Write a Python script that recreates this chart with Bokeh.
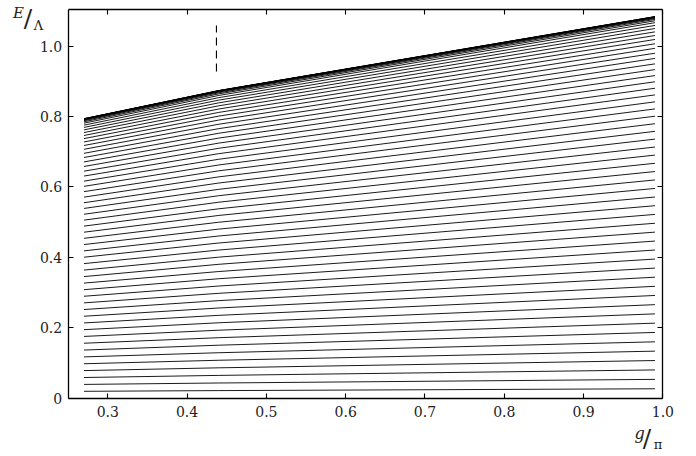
from bokeh.plotting import figure
from bokeh.models import Range1d, FixedTicker, LinearAxis, ColumnDataSource, CustomJSTickFormatter
from bokeh.core.properties import value
from bokeh.embed import file_html
from bokeh.resources import INLINE

g_read = [0.27, 0.44, 0.99]

# E/Lambda of each level (bottom to top) at g/pi = 0.27, 0.44, 0.99
E_at_027 = [0.0196, 0.0392, 0.0588, 0.0784, 0.0979, 0.1174, 0.1368, 0.1562, 0.1755, 0.1947,
            0.2138, 0.2329, 0.2519, 0.2708, 0.2896, 0.3083, 0.3270, 0.3455, 0.3640, 0.3824,
            0.4006, 0.4186, 0.4365, 0.4542, 0.4716, 0.4889, 0.5059, 0.5226, 0.5391, 0.5553,
            0.5712, 0.5868, 0.6019, 0.6167, 0.6311, 0.6450, 0.6584, 0.6713, 0.6838, 0.6957,
            0.7071, 0.7179, 0.7280, 0.7375, 0.7464, 0.7547, 0.7623, 0.7693, 0.7757, 0.7814,
            0.7853, 0.7882, 0.7902, 0.7915, 0.7924, 0.7930, 0.7934, 0.7937, 0.7938, 0.7940]
E_at_044 = [0.0216, 0.0432, 0.0648, 0.0863, 0.1078, 0.1292, 0.1506, 0.1719, 0.1932, 0.2143,
            0.2354, 0.2563, 0.2772, 0.2980, 0.3187, 0.3394, 0.3599, 0.3804, 0.4007, 0.4209,
            0.4409, 0.4608, 0.4804, 0.4999, 0.5192, 0.5381, 0.5568, 0.5753, 0.5934, 0.6113,
            0.6288, 0.6459, 0.6626, 0.6788, 0.6947, 0.7100, 0.7247, 0.7390, 0.7527, 0.7658,
            0.7783, 0.7902, 0.8014, 0.8119, 0.8216, 0.8307, 0.8391, 0.8468, 0.8538, 0.8601,
            0.8645, 0.8676, 0.8698, 0.8713, 0.8723, 0.8729, 0.8733, 0.8736, 0.8738, 0.8740]
E_at_099 = [0.0268, 0.0535, 0.0803, 0.1070, 0.1337, 0.1602, 0.1868, 0.2132, 0.2396, 0.2658,
            0.2919, 0.3179, 0.3438, 0.3696, 0.3953, 0.4209, 0.4464, 0.4718, 0.4970, 0.5221,
            0.5469, 0.5715, 0.5959, 0.6200, 0.6439, 0.6674, 0.6906, 0.7135, 0.7360, 0.7581,
            0.7798, 0.8011, 0.8218, 0.8419, 0.8616, 0.8805, 0.8989, 0.9165, 0.9335, 0.9498,
            0.9653, 0.9800, 0.9939, 1.0069, 1.0191, 1.0303, 1.0407, 1.0503, 1.0590, 1.0668,
            1.0722, 1.0761, 1.0788, 1.0806, 1.0818, 1.0826, 1.0831, 1.0836, 1.0838, 1.0840]

# dashed marker
marker_g = [0.437, 0.437]
marker_E = [0.928, 1.059]

x_ticks = [0.3, 0.4, 0.5, 0.6, 0.7, 0.8, 0.9, 1.0]
x_tick_labels = ["0.3", "0.4", "0.5", "0.6", "0.7", "0.8", "0.9", "1.0"]
y_ticks = [0, 0.2, 0.4, 0.6, 0.8, 1.0]
y_tick_labels = ["0", "0.2", "0.4", "0.6", "0.8", "1.0"]

X_LO, X_HI = 0.25, 1.0
Y_LO, Y_HI = 0.0, 1.104

FONT = "DejaVu Serif"
INK = "#222222"

# the frame covers the whole canvas; the visible box is made of axes fixed at the data limits
p = figure(width=680, height=456, output_backend="svg", toolbar_location=None,
           x_range=Range1d(0.16469, 1.0222), y_range=Range1d(-0.1656, 1.1298),
           min_border=0, min_border_left=0, min_border_right=0, min_border_top=0,
           min_border_bottom=0, x_axis_location=None, y_axis_location=None)
p.grid.visible = False
p.outline_line_color = None
p.background_fill_color = "white"
p.border_fill_color = "white"

def style_axis(ax, ticks, labels, show_labels, standoff, loc, bounds):
    ax.fixed_location = loc
    ax.bounds = bounds
    ax.ticker = FixedTicker(ticks=ticks)
    ax.minor_tick_line_color = None
    ax.major_tick_in = 5
    ax.major_tick_out = 0
    ax.major_tick_line_color = "black"
    ax.major_tick_line_width = 1.1
    ax.axis_line_color = "black"
    ax.axis_line_width = 1.3
    if show_labels:
        ax.major_label_overrides = {t: l for t, l in zip(ticks, labels)}
        ax.major_label_text_font = FONT
        ax.major_label_text_font_size = "14px"
        ax.major_label_text_color = INK
        ax.major_label_standoff = standoff
    else:
        ax.formatter = CustomJSTickFormatter(code="return ''")
        ax.major_label_text_color = None
        ax.major_label_text_font_size = "1px"
        ax.major_label_standoff = 0

bottom = LinearAxis(); style_axis(bottom, x_ticks, x_tick_labels, True, 8, Y_LO, (X_LO, X_HI))
left = LinearAxis(); style_axis(left, y_ticks, y_tick_labels, True, 6, X_LO, (Y_LO, Y_HI))
top = LinearAxis(); style_axis(top, x_ticks, x_tick_labels, False, 0, Y_HI, (X_LO, X_HI))
right = LinearAxis(); style_axis(right, y_ticks, y_tick_labels, False, 0, X_HI, (Y_LO, Y_HI))
p.add_layout(bottom, "below")
p.add_layout(left, "left")
p.add_layout(top, "above")
p.add_layout(right, "right")

xs = [list(g_read) for _ in E_at_027]
ys = [[a, b, c] for a, b, c in zip(E_at_027, E_at_044, E_at_099)]
src = ColumnDataSource(dict(xs=xs, ys=ys))
p.multi_line(xs="xs", ys="ys", source=src, line_color="black", line_width=0.9)

p.line(marker_g, marker_E, line_color="black", line_width=1.1, line_dash="8 5")

def lab(x, y, t, size, style="normal"):
    p.text(x=[x], y=[y], text=[t], text_font=value(FONT), text_font_size=value(size),
           text_font_style=style, text_align="center", text_baseline="middle",
           text_color=INK)

lab(0.1874, 1.0957, "E", "15px", "italic")
lab(0.1994, 1.0784, "/", "25px")
lab(0.2126, 1.0588, "Λ", "13px")
lab(0.9705, -0.1003, "g", "16px", "italic")
lab(0.9800, -0.1145, "/", "25px")
lab(0.9938, -0.1315, "π", "13px")

open("out.html", "w").write(file_html(p, INLINE))
